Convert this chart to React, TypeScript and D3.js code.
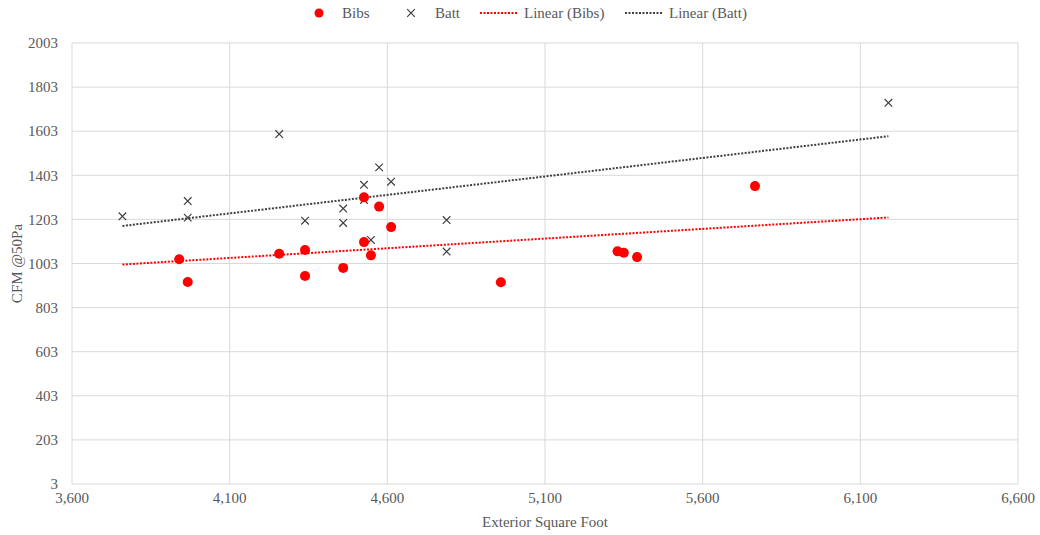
import React, { useEffect, useRef } from 'react';
import * as d3 from 'd3';

// Bibs series (exterior sq ft, CFM @50Pa)
const bibsX = [3940, 3967, 4257, 4339, 4339, 4460, 4526, 4574, 4612, 4526, 4548, 4960, 5330, 5350, 5392, 5766];
const bibsY = [1022, 919, 1047, 1064, 946, 983, 1303, 1261, 1168, 1100, 1040, 918, 1058, 1052, 1032, 1354];

// Batt series
const battX = [3760, 3967, 3967, 4257, 4339, 4460, 4460, 4526, 4526, 4548, 4574, 4612, 4788, 4788, 6189];
const battY = [1217, 1286, 1211, 1590, 1197, 1252, 1187, 1360, 1291, 1110, 1439, 1374, 1200, 1057, 1732];

const xTicks = [3600, 4100, 4600, 5100, 5600, 6100, 6600];
const yTicks = [3, 203, 403, 603, 803, 1003, 1203, 1403, 1603, 1803, 2003];

const FONT = '"Liberation Serif", "Times New Roman", serif';
const FS = '15px';
const TEXT = '#595959';
const GRID = '#d9d9d9';
const RED = '#ff0000';
const DARK = '#404040';

// least squares fit
const fit = (xs: number[], ys: number[]) => {
    const mx = d3.mean(xs) as number;
    const my = d3.mean(ys) as number;
    let num = 0, den = 0;
    xs.forEach((x, i) => {
        num += (x - mx) * (ys[i] - my);
        den += (x - mx) * (x - mx);
    });
    const slope = num / den;
    return (x: number) => my + slope * (x - mx);
};

const App = () => {
    const svgRef = useRef<SVGSVGElement>(null);

    useEffect(() => {
        document.body.style.margin = '0';
        if (!svgRef.current) return;
        const svg = d3.select(svgRef.current);
        svg.selectAll('*').remove();

        const left = 72, right = 1018, top = 43, bottom = 484;

        const x = d3.scaleLinear().domain([3600, 6600]).range([left, right]);
        const y = d3.scaleLinear().domain([3, 2003]).range([bottom, top]);

        // gridlines
        svg.append('g')
            .selectAll('line.h')
            .data(yTicks)
            .enter()
            .append('line')
            .attr('x1', left).attr('x2', right)
            .attr('y1', d => y(d)).attr('y2', d => y(d))
            .style('stroke', GRID).style('stroke-width', 1);

        svg.append('g')
            .selectAll('line.v')
            .data(xTicks)
            .enter()
            .append('line')
            .attr('x1', d => x(d)).attr('x2', d => x(d))
            .attr('y1', top).attr('y2', bottom)
            .style('stroke', GRID).style('stroke-width', 1);

        // tick labels
        svg.append('g')
            .selectAll('text')
            .data(yTicks)
            .enter()
            .append('text')
            .attr('x', left - 14)
            .attr('y', d => y(d))
            .attr('dy', '0.35em')
            .attr('text-anchor', 'end')
            .style('font-family', FONT).style('font-size', FS).style('fill', TEXT)
            .text(d => String(d));

        const fmt = d3.format(',');
        svg.append('g')
            .selectAll('text')
            .data(xTicks)
            .enter()
            .append('text')
            .attr('x', d => x(d))
            .attr('y', bottom + 14)
            .attr('dy', '0.35em')
            .attr('text-anchor', 'middle')
            .style('font-family', FONT).style('font-size', FS).style('fill', TEXT)
            .text(d => fmt(d));

        // axis titles
        svg.append('text')
            .attr('transform', `translate(17,${(top + bottom) / 2}) rotate(-90)`)
            .attr('dy', '0.35em')
            .attr('text-anchor', 'middle')
            .style('font-family', FONT).style('font-size', FS).style('fill', TEXT)
            .text('CFM @50Pa');

        svg.append('text')
            .attr('x', (left + right) / 2)
            .attr('y', 522)
            .attr('dy', '0.35em')
            .attr('text-anchor', 'middle')
            .style('font-family', FONT).style('font-size', FS).style('fill', TEXT)
            .text('Exterior Square Foot');

        // trendlines over the full x extent of the data
        const xExt = d3.extent([...bibsX, ...battX]) as [number, number];
        const bibsFit = fit(bibsX, bibsY);
        const battFit = fit(battX, battY);

        svg.append('path')
            .attr('d', d3.line<number>().x(d => x(d)).y(d => y(bibsFit(d)))(xExt))
            .style('fill', 'none').style('stroke', RED)
            .style('stroke-width', 2).style('stroke-dasharray', '2,1.5');

        svg.append('path')
            .attr('d', d3.line<number>().x(d => x(d)).y(d => y(battFit(d)))(xExt))
            .style('fill', 'none').style('stroke', DARK)
            .style('stroke-width', 2).style('stroke-dasharray', '2,1.5');

        // Batt markers (x)
        const cross = (g: any, cx: number, cy: number, s: number) => {
            g.append('path')
                .attr('d', `M${cx - s},${cy - s}L${cx + s},${cy + s}M${cx - s},${cy + s}L${cx + s},${cy - s}`)
                .style('stroke', DARK).style('stroke-width', 1.2).style('fill', 'none');
        };
        const battG = svg.append('g');
        battX.forEach((d, i) => cross(battG, x(d), y(battY[i]), 3.8));

        // Bibs markers (dots)
        svg.append('g')
            .selectAll('circle')
            .data(bibsX)
            .enter()
            .append('circle')
            .attr('cx', d => x(d))
            .attr('cy', (d, i) => y(bibsY[i]))
            .attr('r', 5)
            .style('fill', RED);

        // legend
        const lg = svg.append('g');
        const ly = 13;
        const legendText = (tx: number, label: string) =>
            lg.append('text')
                .attr('x', tx).attr('y', ly).attr('dy', '0.35em')
                .style('font-family', FONT).style('font-size', FS).style('fill', TEXT)
                .text(label);

        lg.append('circle').attr('cx', 319).attr('cy', ly).attr('r', 4.5).style('fill', RED);
        legendText(342, 'Bibs');
        cross(lg, 411, ly, 3.8);
        legendText(435, 'Batt');
        lg.append('line').attr('x1', 480).attr('x2', 518).attr('y1', ly).attr('y2', ly)
            .style('stroke', RED).style('stroke-width', 2).style('stroke-dasharray', '2,1.5');
        legendText(524, 'Linear (Bibs)');
        lg.append('line').attr('x1', 625).attr('x2', 663).attr('y1', ly).attr('y2', ly)
            .style('stroke', DARK).style('stroke-width', 2).style('stroke-dasharray', '2,1.5');
        legendText(669, 'Linear (Batt)');
    }, []);

    return <svg ref={svgRef} width={1040} height={535} style={{ display: 'block', background: '#fff' }}></svg>;
};

export default App;
